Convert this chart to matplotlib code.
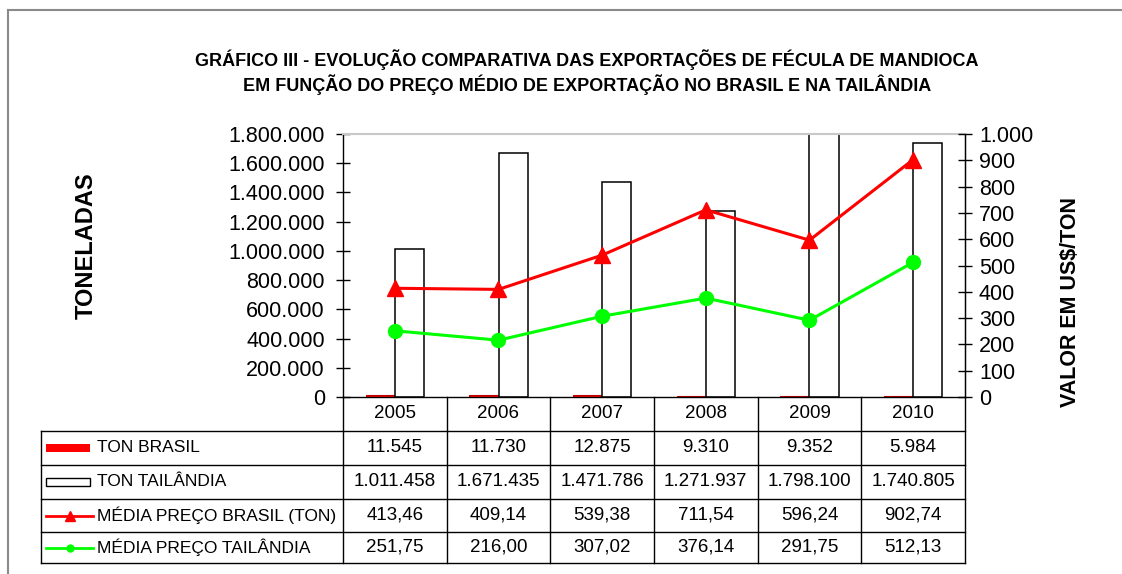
import matplotlib
matplotlib.use("Agg")
import matplotlib.pyplot as plt
import numpy as np
from matplotlib.ticker import FuncFormatter, MultipleLocator
from matplotlib.patches import Rectangle
from matplotlib.lines import Line2D

plt.rcParams["font.family"] = ["Liberation Sans", "DejaVu Sans"]

years = ["2005", "2006", "2007", "2008", "2009", "2010"]
ton_brasil = [11545, 11730, 12875, 9310, 9352, 5984]
ton_tailandia = [1011458, 1671435, 1471786, 1271937, 1798100, 1740805]
preco_brasil = [413.46, 409.14, 539.38, 711.54, 596.24, 902.74]
preco_tailandia = [251.75, 216.00, 307.02, 376.14, 291.75, 512.13]

row_labels = ["TON BRASIL", "TON TAILÂNDIA", "MÉDIA PREÇO BRASIL (TON)", "MÉDIA PREÇO TAILÂNDIA"]
title_lines = ["GRÁFICO III - EVOLUÇÃO COMPARATIVA DAS EXPORTAÇÕES DE FÉCULA DE MANDIOCA",
               "EM FUNÇÃO DO PREÇO MÉDIO DE EXPORTAÇÃO NO BRASIL E NA TAILÂNDIA"]

RED = "#ff0000"
GREEN = "#00ff00"

W, H = 1122, 574


def fx(px):
    return px / W


def fy(py):
    return 1 - py / H


def br_int(v):
    return f"{int(round(v)):,}".replace(",", ".")


def br_dec(v):
    return f"{v:.2f}".replace(".", ",")


fig = plt.figure(figsize=(W / 100, H / 100), dpi=100)

# plot area in pixels
left, right, top, bottom = 343, 965, 134, 397
ax = fig.add_axes([fx(left), fy(bottom), fx(right - left), (bottom - top) / H])
x = np.arange(len(years))
bw = 0.28

ax.bar(x - bw / 2, ton_brasil, bw, color=RED, edgecolor="#c00000", linewidth=0.8, zorder=2)
ax.bar(x + bw / 2, ton_tailandia, bw, color="white", edgecolor="black", linewidth=1.1, zorder=2)
ax.set_xlim(-0.5, len(years) - 0.5)
ax.set_ylim(0, 1800000)
ax.yaxis.set_major_locator(MultipleLocator(200000))
ax.yaxis.set_major_formatter(FuncFormatter(lambda v, _: br_int(v)))
ax.set_xticks([])
ax.tick_params(axis="y", direction="inout", length=10, width=1, labelsize=15.5, pad=8, colors="black")
for s in ["left", "right", "bottom"]:
    ax.spines[s].set_color("black")
    ax.spines[s].set_linewidth(1)
ax.spines["top"].set_color("#c8c8c8")
ax.spines["top"].set_linewidth(1.5)

ax2 = ax.twinx()
ax2.plot(x, preco_brasil, color=RED, marker="^", markersize=11, linewidth=2.2, zorder=3)
ax2.plot(x, preco_tailandia, color=GREEN, marker="o", markersize=10, linewidth=2.2, zorder=3)
ax2.set_ylim(0, 1000)
ax2.yaxis.set_major_locator(MultipleLocator(100))
ax2.yaxis.set_major_formatter(FuncFormatter(lambda v, _: br_int(v)))
ax2.tick_params(axis="y", direction="inout", length=10, width=1, labelsize=15.5, pad=5)
ax2.spines["top"].set_visible(False)
ax2.spines["left"].set_visible(False)
ax2.spines["bottom"].set_visible(False)

# data table below the plot
t_left = 41
rows_px = [397, 431, 465, 499, 532, 563]
cat_px = (right - left) / len(years)


def ux(px):
    return (px - left) / cat_px - 0.5


tax = fig.add_axes([fx(t_left), fy(rows_px[-1]), fx(right - t_left), (rows_px[-1] - rows_px[0]) / H])
tax.set_xlim(ux(t_left), len(years) - 0.5)
tax.set_ylim(rows_px[-1], rows_px[0])
tax.axis("off")

for b in np.arange(len(years) + 1) - 0.5:
    tax.plot([b, b], [rows_px[0], rows_px[-1]], color="black", lw=1, clip_on=False)
tax.plot([ux(t_left), ux(t_left)], [rows_px[1], rows_px[-1]], color="black", lw=1, clip_on=False)
for r in rows_px[1:]:
    tax.plot([ux(t_left), len(years) - 0.5], [r, r], color="black", lw=1, clip_on=False)

for i, yr in enumerate(years):
    tax.text(i, (rows_px[0] + rows_px[1]) / 2, yr, ha="center", va="center", fontsize=13.5)

values = [[br_int(v) for v in ton_brasil], [br_int(v) for v in ton_tailandia],
          [br_dec(v) for v in preco_brasil], [br_dec(v) for v in preco_tailandia]]
for r, (lab, vals) in enumerate(zip(row_labels, values)):
    yc = (rows_px[r + 1] + rows_px[r + 2]) / 2
    tax.text(ux(97), yc, lab, ha="left", va="center", fontsize=12.5)
    for i, v in enumerate(vals):
        tax.text(i, yc, v, ha="center", va="center", fontsize=13.5)

# legend keys in the row label cells
k0, k1 = ux(46), ux(90)
yc = [(rows_px[r + 1] + rows_px[r + 2]) / 2 for r in range(4)]
tax.add_patch(Rectangle((k0, yc[0] - 4), k1 - k0, 8, facecolor=RED, edgecolor="none"))
tax.add_patch(Rectangle((k0, yc[1] - 4), k1 - k0, 8, facecolor="white", edgecolor="black", lw=1))
tax.plot([k0, ux(93)], [yc[2], yc[2]], color=RED, lw=2)
tax.plot([(k0 + ux(93)) / 2], [yc[2]], color=RED, marker="^", markersize=7)
tax.plot([k0, ux(93)], [yc[3], yc[3]], color=GREEN, lw=2)
tax.plot([(k0 + ux(93)) / 2], [yc[3]], color=GREEN, marker="o", markersize=5)

# axis titles
fig.text(fx(86), fy(246), "TONELADAS", rotation=90, ha="center", va="center",
         fontsize=17, fontweight="bold")
fig.text(fx(1070), fy(302), "VALOR EM US\\$/TON", rotation=90, ha="center", va="center",
         fontsize=15.5, fontweight="bold")

# title, scaled to the reference width
narrow = ["Liberation Sans Narrow", "Liberation Sans"]
t1 = fig.text(fx(587), fy(60), title_lines[0], ha="center", va="center", fontsize=12,
              fontweight="bold", family=narrow)
t2 = fig.text(fx(587), fy(85), title_lines[1], ha="center", va="center", fontsize=12,
              fontweight="bold", family=narrow)
fig.canvas.draw()
rend = fig.canvas.get_renderer()
w1 = t1.get_window_extent(rend).width
size = 12 * 780 / w1
t1.set_fontsize(size)
t2.set_fontsize(size)

# screenshot frame (top and left edges)
fig.add_artist(Line2D([fx(8), 1.02], [fy(10), fy(10)], color="#8a8a8a", lw=1.5))
fig.add_artist(Line2D([fx(8), fx(8)], [fy(10), -0.02], color="#8a8a8a", lw=1.5))

fig.savefig("out.png", dpi=100)
